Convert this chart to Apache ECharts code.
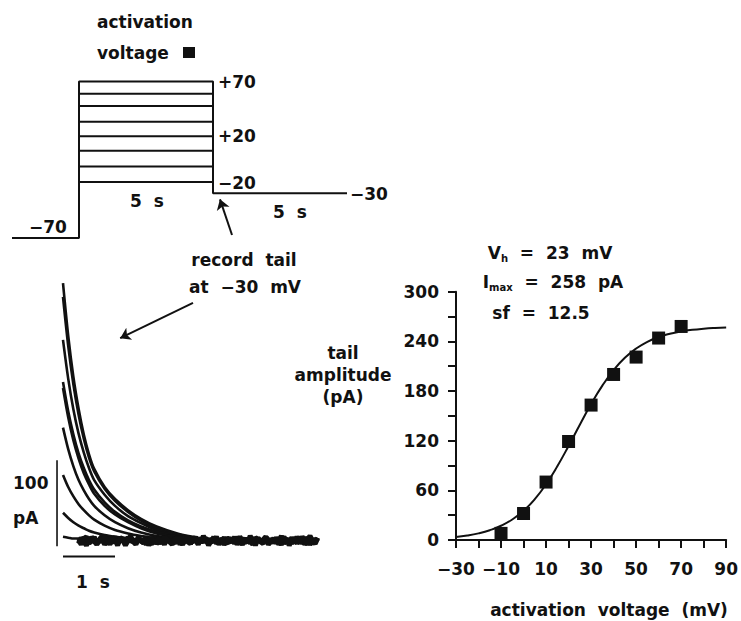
<!DOCTYPE html>
<html><head><meta charset="utf-8">
<script src="https://cdn.jsdelivr.net/npm/echarts@6/dist/echarts.min.js"></script>
<style>html,body{margin:0;padding:0;background:#fff}#c{width:741px;height:621px}</style>
</head><body><div id="c"></div>
<script>
// ---------- DATA ----------
// Voltage protocol (schematic)
const holdingV = -70;          // mV
const tailV = -30;             // mV
const protoTimes = [-2.5, 0, 5, 10];   // s : start, step on, step off, end of tail
const stepLevels = [70, 59, 48, 34, 21, 8, -6, -20]; // mV, as drawn
const protoLabels = ['+70', '+20', '\u221220'];
// Tail current traces (pA) sampled at traceTimes (s)
const traceTimes = [0, 0.1, 0.2, 0.3, 0.4, 0.5, 0.6, 0.8, 1.0, 1.25, 1.5, 1.8, 2.2, 2.6];
const trace1 = [301, 240, 192, 155, 125, 102, 85, 64, 50, 37, 27, 18, 10, 5];
const trace2 = [285, 228, 183, 148, 120, 98, 82, 62, 48, 35, 25, 16, 9, 4];
const trace3 = [235, 190, 154, 126, 104, 86, 72, 55, 42, 30, 22, 14, 8, 4];
const trace4 = [186, 152, 125, 103, 86, 72, 61, 46, 35, 25, 18, 12, 7, 3];
const trace5 = [179, 145, 118, 97, 80, 67, 56, 42, 32, 23, 16, 10, 6, 3];
const trace6 = [133, 108, 88, 72, 60, 50, 42, 31, 23, 16, 11, 7, 4, 2];
const trace7 = [78, 64, 53, 44, 37, 31, 26, 19, 14, 10, 7, 4, 2, 1];
const trace8 = [34, 28, 23, 19, 16, 13, 11, 8, 6, 4, 3, 2, 1, 0];
const trace9 = [6, 5, 4, 4, 3, 3, 2, 2, 1, 1, 0, 0, 0, 0];
// Steady-state noise on the baseline (pA), sampled every 0.05 s from 0.3 s
const noiseStart = 0.3, noiseStep = 0.05;
const noiseA = [3,-2,4,1,-3,5,0,-4,2,6,-1,3,-3,1,5,-2,0,4,-4,2,
  6,-1,-3,3,1,-2,5,0,-4,3,2,-3,4,-1,1,6,-2,0,3,-4,
  2,5,-1,-3,4,0,2,-2,6,1,-4,3,0,5,-2,2,-3,4,1,-1,
  5,-4,2,0,3,-2,6,1,-3,4,-1,2,5,-4,0,3,-2,1,6,-3,
  2,0,4,-2,5,-1,3,-4,2,6,0,-3,4];
const noiseB = [-3,4,0,-5,2,-1,5,-3,1,3,-4,0,4,-2,2,-5,3,1,-3,5,
  -1,2,-4,4,0,-2,3,-5,1,5,-3,0,2,-4,4,-1,1,-3,5,0,
  -4,2,3,-2,0,5,-3,1,-1,4,-5,2,0,3,-4,1,4,-2,-1,3,
  -3,5,0,-4,2,1,-2,4,-5,3,0,-1,5,-3,2,-2,4,0,-4,1,
  3,-5,2,0,-2,5,-3,1,4,-4,0,2,-1];
const noiseC = [1,-4,3,5,-2,0,4,-3,2,-1,5,1,-4,3,0,-2,4,2,-5,1,
  3,0,-3,5,-1,2,-4,1,4,-2,0,3,-3,5,2,-1,-4,3,1,4,
  -2,0,5,-3,2,1,-4,4,-1,3,0,-2,5,-3,1,2,-4,0,4,-1,
  2,-3,5,1,-2,3,0,-4,4,2,-1,-3,5,0,2,-2,3,-4,1,5,
  -1,2,-3,4,0,-2,5,1,-4,3,-1,2,0];
// Scale bars: 100 pA and 1 s
const scaleBarPA = [-5, 95], scaleBarPATime = -0.115;
const scaleBarS = [0, 1], scaleBarSLevel = -17;
// Activation curve
const activationV = [-10, 0, 10, 20, 30, 40, 50, 60, 70];
const tailAmplitude = [8, 32, 70, 119, 163, 200, 221, 244, 258];
const fitV = [-30,-25,-20,-15,-10,-5,0,5,10,15,20,25,30,35,40,45,50,55,60,65,70,75,80,85,90];
const fitI = [3.7,5.4,8.0,11.8,17.2,24.8,35.3,49.4,67.4,89.1,113.6,139.3,164.2,186.5,205.3,220.1,231.3,239.5,245.3,249.3,252.1,254.0,255.3,256.2,256.8];
// Annotation arrows (in their panels' data units)
const arrowProto = [[5.71, -67.3], [5.26, -35.4]];   // s, mV
const arrowTrace = [[2.5, 278], [1.1, 237]];         // s, pA

// ---------- CHART ----------
const FONT = '"DejaVu Sans", "Liberation Sans", sans-serif';
const fnt = (s) => 'bold ' + s + 'px ' + FONT;
const minus = (v) => (v < 0 ? '\u2212' + Math.abs(v) : String(v));
const BLACK = '#111';

const chart = echarts.init(document.getElementById('c'), null, {renderer: 'svg'});

const series = [];
// Protocol outline
series.push({type: 'line', xAxisIndex: 0, yAxisIndex: 0, showSymbol: false, silent: true,
  lineStyle: {color: BLACK, width: 2},
  data: [[protoTimes[0], holdingV], [protoTimes[1], holdingV], [protoTimes[1], stepLevels[0]],
         [protoTimes[2], stepLevels[0]], [protoTimes[2], tailV], [protoTimes[3], tailV]]});
stepLevels.slice(1).forEach(v => series.push({type: 'line', xAxisIndex: 0, yAxisIndex: 0,
  showSymbol: false, silent: true, lineStyle: {color: BLACK, width: 2},
  data: [[protoTimes[1], v], [protoTimes[2], v]]}));
series.push({type: 'lines', coordinateSystem: 'cartesian2d', xAxisIndex: 0, yAxisIndex: 0,
  symbol: ['none', 'arrow'], symbolSize: 10, silent: true,
  lineStyle: {color: BLACK, width: 2, opacity: 1}, data: [{coords: arrowProto}]});

// Traces
[trace1, trace2, trace3, trace4, trace5, trace6, trace7, trace8, trace9].forEach(tr => series.push({
  type: 'line', xAxisIndex: 1, yAxisIndex: 1, showSymbol: false, silent: true, smooth: 0.3,
  lineStyle: {color: BLACK, width: 2.6},
  data: traceTimes.map((t, i) => [t, tr[i]])}));
[noiseA, noiseB, noiseC].forEach(nz => series.push({
  type: 'line', xAxisIndex: 1, yAxisIndex: 1, showSymbol: false, silent: true,
  lineStyle: {color: BLACK, width: 5},
  data: nz.map((v, i) => [noiseStart + i * noiseStep, v + 1])}));
series.push({type: 'line', xAxisIndex: 1, yAxisIndex: 1, showSymbol: false, silent: true,
  lineStyle: {color: BLACK, width: 1.6},
  data: [[scaleBarPATime, scaleBarPA[0]], [scaleBarPATime, scaleBarPA[1]]]});
series.push({type: 'line', xAxisIndex: 1, yAxisIndex: 1, showSymbol: false, silent: true,
  lineStyle: {color: BLACK, width: 2},
  data: [[scaleBarS[0], scaleBarSLevel], [scaleBarS[1], scaleBarSLevel]]});
series.push({type: 'lines', coordinateSystem: 'cartesian2d', xAxisIndex: 1, yAxisIndex: 1,
  symbol: ['none', 'arrow'], symbolSize: 10, silent: true,
  lineStyle: {color: BLACK, width: 2, opacity: 1}, data: [{coords: arrowTrace}]});

// Activation curve
series.push({type: 'line', xAxisIndex: 2, yAxisIndex: 2, showSymbol: false, silent: true, smooth: true,
  lineStyle: {color: BLACK, width: 2}, data: fitV.map((v, i) => [v, fitI[i]]), z: 3});
series.push({type: 'scatter', xAxisIndex: 2, yAxisIndex: 2, symbol: 'rect', symbolSize: 13, silent: true,
  itemStyle: {color: BLACK, opacity: 1}, data: activationV.map((v, i) => [v, tailAmplitude[i]]), z: 4});

const txt = (text, x, y, align, size) => ({type: 'text', x: x, y: y, silent: true,
  style: {text: text, font: fnt(size || 17), fill: BLACK,
    textAlign: align || 'left', align: align || 'left', textVerticalAlign: 'middle', verticalAlign: 'middle'}});

const graphic = [
  txt('activation', 97, 22),
  txt('voltage', 97, 53),
  {type: 'rect', silent: true, shape: {x: 183, y: 47, width: 12, height: 11}, style: {fill: BLACK}},
  txt(protoLabels[0], 218, 82),
  txt(protoLabels[1], 218, 136),
  txt(protoLabels[2], 218, 183),
  txt('\u221230', 350, 194),
  txt('\u221270', 29, 227),
  txt('5  s', 147, 201, 'center'),
  txt('5  s', 290, 212, 'center'),
  txt('record  tail', 244, 260, 'center'),
  txt('at  \u221230  mV', 245, 287, 'center'),
  txt('100', 13, 483),
  txt('pA', 13, 518),
  txt('1  s', 93, 582, 'center'),
  txt('tail', 343, 353, 'center'),
  txt('amplitude', 343, 375, 'center'),
  txt('(pA)', 343, 397, 'center'),
  {type: 'text', x: 550, y: 253, silent: true, style: {
    text: '{a|V}{s|h}{a|  =  23  mV}', textAlign: 'center', align: 'center', textVerticalAlign: 'middle', verticalAlign: 'middle',
    rich: {a: {font: fnt(17), fill: BLACK, color: BLACK}, s: {font: fnt(10), fill: BLACK, color: BLACK, padding: [10, 0, 0, 0]}}}},
  {type: 'text', x: 553, y: 282, silent: true, style: {
    text: '{a|I}{s|max}{a|  =  258  pA}', textAlign: 'center', align: 'center', textVerticalAlign: 'middle', verticalAlign: 'middle',
    rich: {a: {font: fnt(17), fill: BLACK, color: BLACK}, s: {font: fnt(10), fill: BLACK, color: BLACK, padding: [10, 0, 0, 0]}}}},
  txt('sf  =  12.5', 541, 313, 'center'),
  txt('activation  voltage  (mV)', 609, 610, 'center')
];

const axisCommon = {axisLine: {show: true, onZero: false, lineStyle: {color: BLACK, width: 2}},
  axisTick: {show: true, inside: false, length: 8, lineStyle: {color: BLACK, width: 2}},
  splitLine: {show: false}};

chart.setOption({
  animation: false,
  backgroundColor: '#fff',
  grid: [
    {left: 12, top: 70.3, width: 335, height: 178.9},
    {left: 52.6, top: 275.4, width: 270.4, height: 283.8},
    {left: 456, top: 291.7, width: 273, height: 248.3}
  ],
  xAxis: [
    {gridIndex: 0, type: 'value', min: -2.5, max: 10, show: false},
    {gridIndex: 1, type: 'value', min: -0.2, max: 5, show: false},
    Object.assign({gridIndex: 2, type: 'value', min: -30, max: 90, interval: 10,
      axisLabel: {margin: 20, color: BLACK, fontFamily: FONT, fontWeight: 'bold', fontSize: 17,
        formatter: v => ((v + 30) % 20 === 0 ? minus(v) : '')}}, axisCommon)
  ],
  yAxis: [
    {gridIndex: 0, type: 'value', min: -80, max: 80, show: false},
    {gridIndex: 1, type: 'value', min: -20, max: 310, show: false},
    Object.assign({gridIndex: 2, type: 'value', min: 0, max: 300, interval: 30,
      axisLabel: {margin: 17, color: BLACK, fontFamily: FONT, fontWeight: 'bold', fontSize: 17,
        formatter: v => (v % 60 === 0 ? String(v) : '')}}, axisCommon)
  ],
  series: series,
  graphic: graphic
});
</script>
</body></html>
